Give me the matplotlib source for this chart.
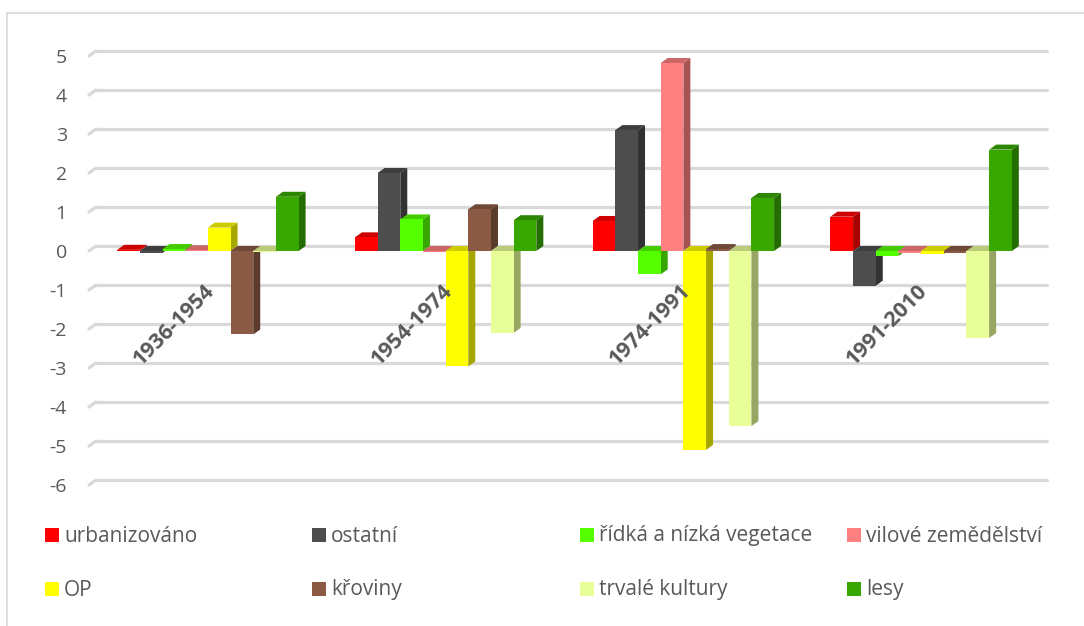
import matplotlib
matplotlib.use("Agg")
import matplotlib.pyplot as plt
from matplotlib.patches import Polygon, Rectangle
from matplotlib.lines import Line2D
from matplotlib.colors import to_rgb
import numpy as np

# data
periods = ["1936-1954", "1954-1974", "1974-1991", "1991-2010"]
series = ["urbanizováno", "ostatní", "řídká a nízká vegetace", "vilové zemědělství",
          "OP", "křoviny", "trvalé kultury", "lesy"]
urbanizovano = [0.03, 0.35, 0.77, 0.88]
ostatni = [-0.05, 2.0, 3.1, -0.89]
ridka = [0.05, 0.81, -0.6, -0.13]
vilove = [0.02, -0.02, 4.82, -0.05]
op = [0.6, -2.96, -5.1, -0.08]
kroviny = [-2.14, 1.07, 0.05, -0.06]
trvale = [-0.02, -2.1, -4.49, -2.23]
lesy = [1.39, 0.79, 1.36, 2.6]
values = [urbanizovano, ostatni, ridka, vilove, op, kroviny, trvale, lesy]
colors = ["#ff0000", "#4d4d4d", "#55ff00", "#ff8080",
          "#ffff00", "#8b5a44", "#e8ff99", "#38a800"]
yticks = list(range(-6, 6))

txt = "#595959"
grid_c = "#d9d9d9"
font = "Open Sans"

W_PX, H_PX = 1084, 626
fig = plt.figure(figsize=(W_PX / 100, H_PX / 100), dpi=100)
L, B, W, H = 89 / W_PX, 1 - 485 / H_PX, 951 / W_PX, 429 / H_PX
ax = fig.add_axes([L, B, W, H])
ax.set_xlim(-0.5, len(periods) - 0.5)
ax.set_ylim(min(yticks), max(yticks))
for s in ax.spines.values():
    s.set_visible(False)
ax.set_xticks([])
ax.set_yticks(yticks)
ax.set_yticklabels([str(t) for t in yticks], fontsize=14, color=txt, family=font)
ax.tick_params(axis="y", length=0, pad=16)

# depth offset of the pseudo 3D look, in data units
px_x = W * W_PX / (len(periods))
px_y = H * H_PX / (max(yticks) - min(yticks))
DX, DY = 7 / px_x, 5 / px_y

# back-wall gridlines with the little diagonal at the left
x_left, x_right = ax.get_xlim()
for t in yticks:
    ax.plot([x_left, x_left + DX], [t, t + DY], color=grid_c, lw=2.3,
            solid_capstyle="round", zorder=0.5, clip_on=False)
    ax.plot([x_left + DX, x_right + DX], [t + DY, t + DY], color=grid_c, lw=2.3,
            solid_capstyle="round", zorder=0.5, clip_on=False)


def shade(c, f):
    return tuple(np.array(to_rgb(c)) * f)


group_w = 0.763
bw = group_w / len(series)
z = 2
for g in range(len(periods)):
    for i, (vals, c) in enumerate(zip(values, colors)):
        v = vals[g]
        x0 = g - group_w / 2 + i * bw
        lo, hi = min(0, v), max(0, v)
        side = Polygon([(x0 + bw, lo), (x0 + bw, hi), (x0 + bw + DX, hi + DY),
                        (x0 + bw + DX, lo + DY)], closed=True,
                       facecolor=shade(c, 0.65), edgecolor="none", zorder=z, clip_on=False)
        top = Polygon([(x0, hi), (x0 + bw, hi), (x0 + bw + DX, hi + DY), (x0 + DX, hi + DY)],
                      closed=True, facecolor=shade(c, 0.8), edgecolor="none",
                      zorder=z + 0.1, clip_on=False)
        front = Rectangle((x0, lo), bw, hi - lo, facecolor=c, edgecolor="none",
                          zorder=z + 0.2, clip_on=False)
        ax.add_patch(side)
        ax.add_patch(top)
        ax.add_patch(front)
        z += 1

# category labels
for g, p in enumerate(periods):
    ax.text(g + 0.015, -0.95, p, rotation=45, ha="right", va="center",
            rotation_mode="anchor", fontsize=15.5, fontweight="bold", color=txt,
            family=font, zorder=100)

# legend, 2 rows x 4 columns
for i, (name, c) in enumerate(zip(series, colors)):
    row, col = divmod(i, 4)
    mx = 45 + col * 267.3
    my = 535 + row * 54
    fig.add_artist(Rectangle((mx / W_PX, 1 - (my + 7) / H_PX), 14 / W_PX, 14 / H_PX,
                             transform=fig.transFigure, facecolor=c, edgecolor="none"))
    fig.text((mx + 19) / W_PX, 1 - (my + 1) / H_PX, name, ha="left", va="center",
             fontsize=15, color=txt, family=font)

# chart frame (only left and top are visible in the crop)
fx, fy = 7 / W_PX, 1 - 12.7 / H_PX
fig.add_artist(Line2D([fx, fx], [0, fy], transform=fig.transFigure, color=grid_c, lw=1.2))
fig.add_artist(Line2D([fx, 1], [fy, fy], transform=fig.transFigure, color=grid_c, lw=1.2))

fig.savefig("out.png", dpi=100)
